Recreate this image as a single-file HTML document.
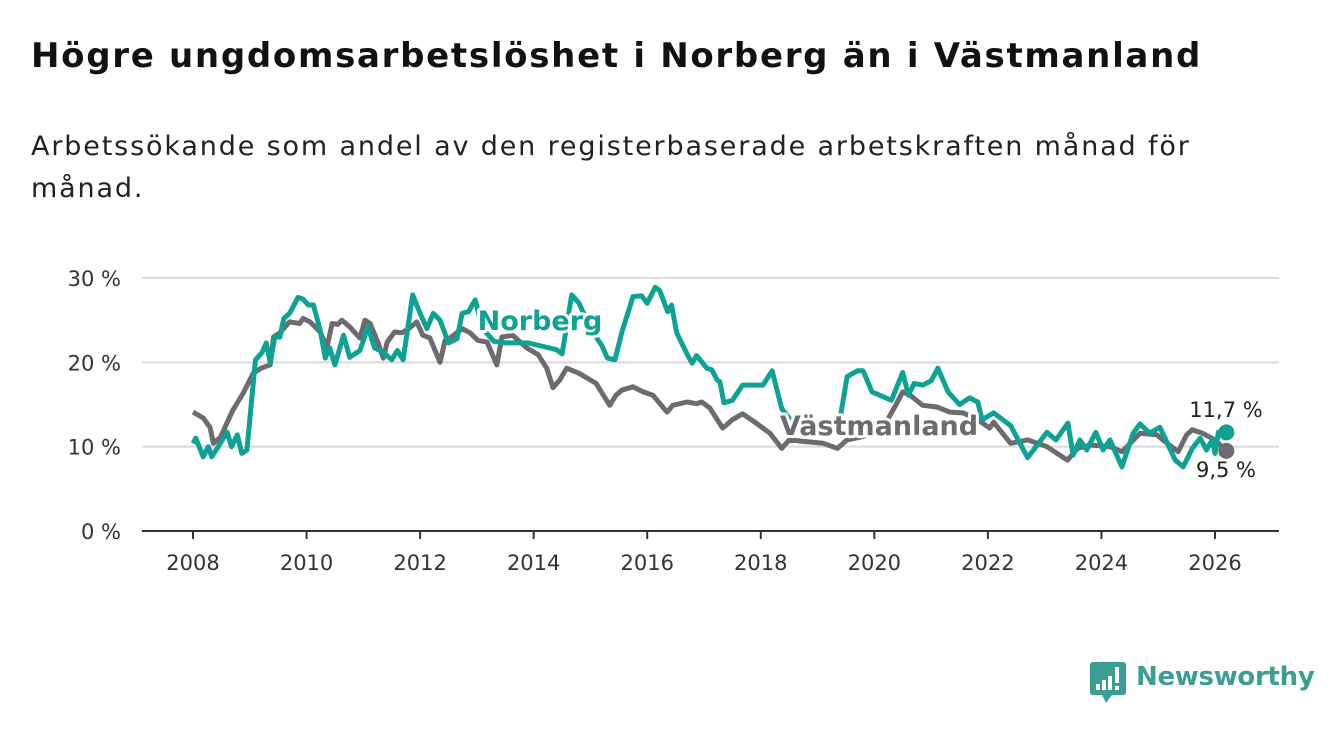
<!DOCTYPE html>
<html><head><meta charset="utf-8">
<style>
body{margin:0;background:#fff;width:1340px;height:734px;overflow:hidden;font-family:"DejaVu Sans","Liberation Sans",sans-serif;}
h1{position:absolute;left:31px;top:36px;margin:0;font-size:34px;font-weight:bold;color:#111;letter-spacing:1.7px;white-space:nowrap;}
.sub{position:absolute;left:31px;top:126px;margin:0;font-size:27px;line-height:42px;color:#222;width:1290px;letter-spacing:1.85px;white-space:nowrap;}
svg{position:absolute;left:0;top:0;}
</style></head><body>
<h1>Högre ungdomsarbetslöshet i Norberg än i Västmanland</h1>
<p class="sub">Arbetssökande som andel av den registerbaserade arbetskraften månad för<br>månad.</p>
<svg id="chart" width="1340" height="734"></svg>
<div style="position:absolute;left:1090px;top:662px;">
<svg width="36" height="42" style="position:static"><path d="M3 0H33Q36 0 36 3V30Q36 33 33 33H22L16 41L12 33H3Q0 33 0 30V3Q0 0 3 0Z" fill="#3a9e94"/><rect x="6" y="22" width="4" height="6" fill="#fff"/><rect x="12" y="18" width="4" height="10" fill="#fff"/><rect x="18" y="14" width="4" height="14" fill="#fff"/><rect x="25" y="5" width="4" height="16" fill="#fff"/><rect x="25" y="24" width="4" height="4" fill="#fff"/></svg>
<span style="position:absolute;left:46px;top:0px;font-size:26px;font-weight:bold;color:#3a9e94;white-space:nowrap;letter-spacing:-0.3px;">Newsworthy</span>
</div>
<script>
const yTicks=[0,10,20,30];
const xTicks=[2008,2010,2012,2014,2016,2018,2020,2022,2024,2026];
const norbergDates=[2008.0,2008.05,2008.18,2008.27,2008.33,2008.48,2008.6,2008.68,2008.78,2008.86,2008.95,2009.1,2009.22,2009.29,2009.36,2009.44,2009.53,2009.6,2009.7,2009.85,2009.94,2010.03,2010.12,2010.24,2010.33,2010.41,2010.5,2010.65,2010.76,2010.94,2011.08,2011.2,2011.35,2011.5,2011.6,2011.7,2011.87,2012.0,2012.12,2012.23,2012.35,2012.5,2012.65,2012.74,2012.85,2012.97,2013.1,2013.3,2013.5,2013.7,2013.9,2014.1,2014.4,2014.5,2014.67,2014.8,2015.0,2015.2,2015.3,2015.43,2015.55,2015.75,2015.9,2016.0,2016.14,2016.22,2016.36,2016.43,2016.52,2016.7,2016.79,2016.87,2017.05,2017.14,2017.23,2017.28,2017.35,2017.5,2017.68,2017.85,2018.04,2018.2,2018.37,2018.6,2018.8,2019.0,2019.2,2019.4,2019.52,2019.7,2019.8,2019.96,2020.3,2020.5,2020.6,2020.7,2020.85,2021.0,2021.12,2021.3,2021.5,2021.68,2021.82,2021.9,2022.1,2022.4,2022.7,2023.04,2023.2,2023.41,2023.5,2023.62,2023.74,2023.9,2024.03,2024.15,2024.36,2024.56,2024.68,2024.85,2025.03,2025.3,2025.44,2025.6,2025.74,2025.85,2025.95,2026.0,2026.06,2026.2];
const norbergValues=[10.4,11,8.8,10,8.8,10.4,11.7,10,11.4,9.2,9.6,20.3,21.2,22.3,20,23,23,25.2,25.8,27.7,27.5,26.8,26.8,23.8,20.5,21.7,19.7,23.2,20.6,21.4,24.2,21.7,21.2,20.3,21.4,20.3,28,25.8,24,25.8,25,22.3,22.8,25.8,26,27.4,24,22.5,22.3,22.3,22.3,22,21.5,21,28,27,24,22,20.5,20.3,23.5,27.8,27.9,27,28.9,28.5,26,26.8,23.5,21,19.9,20.8,19.3,19.1,17.9,17.7,15.2,15.5,17.3,17.3,17.3,19,14.5,12.5,13,12.5,12,13.5,18.3,19,19,16.5,15.5,18.8,16.1,17.5,17.3,17.8,19.3,16.5,15,15.8,15.3,13.2,14,12.5,8.7,11.7,10.8,12.8,9,10.8,9.6,11.7,9.6,10.8,7.6,11.6,12.7,11.6,12.3,8.4,7.6,9.8,11,9.6,10.8,9.2,11.7,11.7];
const vastDates=[2008.0,2008.18,2008.3,2008.36,2008.48,2008.7,2008.88,2009.06,2009.2,2009.36,2009.42,2009.53,2009.7,2009.88,2009.94,2010.06,2010.24,2010.36,2010.45,2010.55,2010.62,2010.76,2010.94,2011.03,2011.12,2011.26,2011.35,2011.42,2011.55,2011.68,2011.8,2011.94,2012.05,2012.17,2012.35,2012.44,2012.53,2012.74,2012.88,2013.02,2013.18,2013.35,2013.44,2013.63,2013.88,2014.08,2014.23,2014.34,2014.46,2014.58,2014.8,2015.1,2015.34,2015.45,2015.55,2015.75,2015.93,2016.1,2016.35,2016.45,2016.7,2016.87,2016.96,2017.1,2017.33,2017.5,2017.68,2017.92,2018.16,2018.37,2018.5,2018.8,2019.1,2019.35,2019.52,2019.8,2020.0,2020.2,2020.4,2020.5,2020.63,2020.85,2021.1,2021.33,2021.56,2021.8,2022.03,2022.1,2022.4,2022.7,2023.04,2023.4,2023.58,2023.8,2024.15,2024.36,2024.68,2024.98,2025.08,2025.35,2025.5,2025.6,2025.78,2026.0,2026.15,2026.2];
const vastValues=[14.1,13.4,12.3,10.4,11.1,14.3,16.3,18.7,19.3,19.7,23,23.5,24.8,24.6,25.2,24.8,23.6,21.8,24.6,24.5,25,24.2,22.9,25,24.6,22.3,20.5,22.4,23.6,23.5,24,24.8,23.2,22.9,20,22.6,22.9,24,23.5,22.6,22.4,19.7,23,23.2,21.7,20.9,19.3,17,17.9,19.3,18.7,17.5,14.9,16.1,16.7,17.1,16.5,16.1,14.1,14.9,15.3,15.1,15.3,14.6,12.2,13.2,13.9,12.8,11.6,9.8,10.8,10.6,10.4,9.8,10.8,11.2,11.8,12.8,15.2,16.5,16.1,14.9,14.7,14.1,14,13.3,12.2,12.9,10.4,10.8,10,8.4,9.8,10.2,10,9.4,11.6,11.4,10.8,9.4,11.4,12,11.6,10.8,9.8,9.5];
const NS="http://www.w3.org/2000/svg";
const svg=document.getElementById('chart');
const x0=193,x1=1215,y0=531,y30=278;
function xs(t){return x0+(t-2008)*(x1-x0)/18;}
function ys(v){return y0-v*(y0-y30)/30;}
function mk(tag,attrs){const e=document.createElementNS(NS,tag);for(const k in attrs)e.setAttribute(k,attrs[k]);svg.appendChild(e);return e;}
yTicks.forEach(v=>{
  const g=mk('line',{x1:142,x2:1279,y1:ys(v),y2:ys(v),stroke:v===0?'#333':'#d9d9d9','stroke-width':2});
  
  
  const t=mk('text',{x:121,y:ys(v)+8,'text-anchor':'end','font-size':21,fill:'#333'});
  t.textContent=v+' %';
  
  
});
xTicks.forEach(yr=>{
  const l=mk('line',{x1:xs(yr),x2:xs(yr),y1:531,y2:539,stroke:'#333','stroke-width':2});
  
  
  const t=mk('text',{x:xs(yr),y:570,'text-anchor':'middle','font-size':21,fill:'#333'});
  t.textContent=yr;
  
  
});
function path(d,v){return d.map((t,i)=>(i?'L':'M')+xs(t).toFixed(1)+' '+ys(v[i]).toFixed(1)).join('');}
const pv=mk('path',{d:path(vastDates,vastValues),fill:'none',stroke:'#6d6b70','stroke-width':5,'stroke-linejoin':'round'});


const pn=mk('path',{d:path(norbergDates,norbergValues),fill:'none',stroke:'#0da293','stroke-width':5,'stroke-linejoin':'round'});


const lv=vastDates.length-1, ln=norbergDates.length-1;
const dv=mk('circle',{cx:xs(vastDates[lv]),cy:ys(vastValues[lv]),r:8,fill:'#6d6b70'});


const dn=mk('circle',{cx:xs(norbergDates[ln]),cy:ys(norbergValues[ln]),r:8,fill:'#0da293'});


const en=mk('text',{x:1226,y:417,'text-anchor':'middle','font-size':21,fill:'#222'});
en.textContent='11,7 %';


const ev=mk('text',{x:1226,y:477,'text-anchor':'middle','font-size':21,fill:'#222'});
ev.textContent='9,5 %';


const sn=mk('text',{x:540,y:330,'text-anchor':'middle','font-size':27,'font-weight':'bold',fill:'#0da293',stroke:'#fff','stroke-width':6,'paint-order':'stroke','stroke-linejoin':'round'});
sn.textContent='Norberg';


const sv=mk('text',{x:879,y:435,'text-anchor':'middle','font-size':27,'font-weight':'bold',fill:'#6d6b70',stroke:'#fff','stroke-width':6,'paint-order':'stroke','stroke-linejoin':'round'});
sv.textContent='Västmanland';


</script>
</body></html>
